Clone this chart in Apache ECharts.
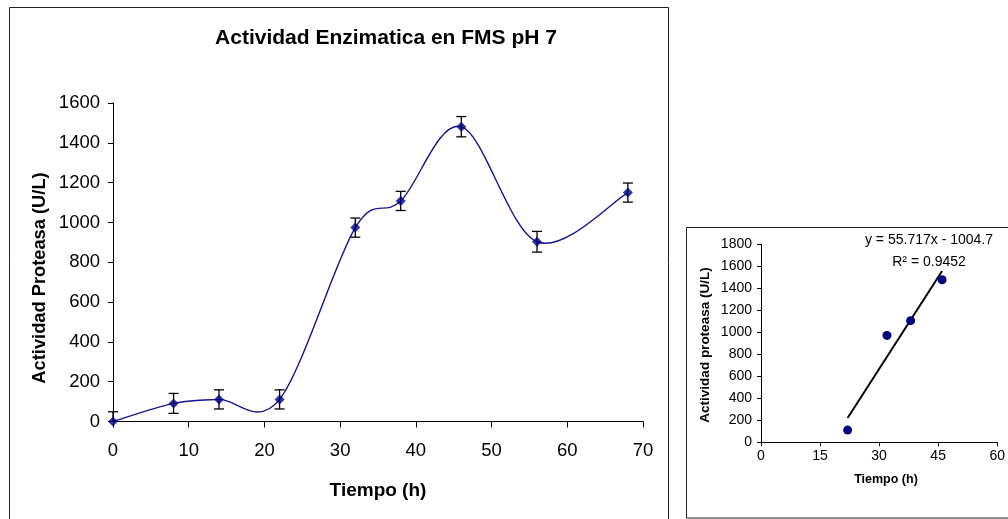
<!DOCTYPE html>
<html>
<head>
<meta charset="utf-8">
<script src="https://cdn.jsdelivr.net/npm/echarts@6/dist/echarts.min.js"></script>
<style>
html,body{margin:0;padding:0;background:#fff;}
#c{width:1008px;height:519px;}
</style>
</head>
<body>
<div id="c"></div>
<script>
// ---- Data ----
const tiempo = [0, 8, 14, 22, 32, 38, 46, 56, 68];
const actividad = [0, 91, 111, 111, 974, 1108, 1481, 903, 1150];
const errorBar = [49, 50, 48, 48, 48, 48, 51, 52, 48];

const insetTiempo = [22, 32, 38, 46];
const insetActividad = [111, 972, 1106, 1478];
const trendX = [22, 46];
const trendY = [221, 1558];

const mainTitle = 'Actividad Enzimatica en FMS pH 7';
const mainXName = 'Tiempo (h)';
const mainYName = 'Actividad Proteasa (U/L)';
const insetXName = 'Tiempo (h)';
const insetYName = 'Actividad proteasa (U/L)';
const eqText = 'y = 55.717x - 1004.7';
const r2Text = 'R² = 0.9452';

// ---- Build ----
const SANS = '"Liberation Sans", Arial, sans-serif';
const NAVY = '#000080';
const plain = v => String(v);

const lineData = tiempo.map((t, i) => [t, actividad[i]]);
const errData = tiempo.map((t, i) => [t, actividad[i] + errorBar[i], actividad[i] - errorBar[i]]);
const insetData = insetTiempo.map((t, i) => [t, insetActividad[i]]);
const trendData = trendX.map((t, i) => [t, trendY[i]]);

const chart = echarts.init(document.getElementById('c'), null, {renderer: 'canvas'});

function axisCommon(extra) {
  return Object.assign({
    type: 'value',
    axisLine: {show: true, onZero: false, lineStyle: {color: '#000', width: 1}},
    splitLine: {show: false}
  }, extra);
}

const option = {
  backgroundColor: '#fff',
  animation: false,
  grid: [
    {left: 113, top: 103, width: 530, height: 318.5},
    {left: 761, top: 244.3, width: 250, height: 198}
  ],
  xAxis: [
    axisCommon({gridIndex: 0, min: 0, max: 70, interval: 10,
      axisTick: {show: true, length: 6, lineStyle: {color: '#000'}},
      axisLabel: {color: '#000', fontSize: 18.5, fontFamily: SANS, margin: 20, formatter: plain}}),
    axisCommon({gridIndex: 1, min: 0, max: 60, interval: 15,
      axisTick: {show: true, length: 4, lineStyle: {color: '#000'}},
      axisLabel: {color: '#000', fontSize: 14, fontFamily: SANS, margin: 7, formatter: plain}})
  ],
  yAxis: [
    axisCommon({gridIndex: 0, min: 0, max: 1600, interval: 200,
      axisTick: {show: true, length: 5, lineStyle: {color: '#000'}},
      axisLabel: {color: '#000', fontSize: 18.5, fontFamily: SANS, margin: 13, formatter: plain}}),
    axisCommon({gridIndex: 1, min: 0, max: 1800, interval: 200,
      axisTick: {show: true, length: 4, lineStyle: {color: '#000'}},
      axisLabel: {color: '#000', fontSize: 14, fontFamily: SANS, margin: 9, formatter: plain}})
  ],
  series: [
    // error bars
    {
      type: 'custom', xAxisIndex: 0, yAxisIndex: 0, z: 2,
      data: errData,
      renderItem: function (params, api) {
        const x = api.value(0), hi = api.value(1);
        let lo = api.value(2);
        const clipped = lo < 0;
        if (clipped) lo = 0;
        const p1 = api.coord([x, hi]);
        const p2 = api.coord([x, lo]);
        const w = 5;
        const st = {stroke: '#000', lineWidth: 1.3};
        const ch = [
          {type: 'line', shape: {x1: p1[0], y1: p1[1], x2: p2[0], y2: p2[1]}, style: st},
          {type: 'line', shape: {x1: p1[0] - w, y1: p1[1], x2: p1[0] + w, y2: p1[1]}, style: st}
        ];
        if (!clipped) ch.push({type: 'line', shape: {x1: p2[0] - w, y1: p2[1], x2: p2[0] + w, y2: p2[1]}, style: st});
        return {type: 'group', children: ch};
      }
    },
    // smoothed line (Catmull-Rom style bezier, like a spreadsheet smoothed line)
    {
      type: 'custom', xAxisIndex: 0, yAxisIndex: 0, z: 3,
      data: lineData,
      renderItem: function (params, api) {
        const i = params.dataIndex;
        const n = lineData.length;
        if (i >= n - 1) return null;
        const P = k => api.coord(lineData[Math.max(0, Math.min(n - 1, k))]);
        const p0 = P(i - 1), p1 = P(i), p2 = P(i + 1), p3 = P(i + 2);
        const c1 = [p1[0] + (p2[0] - p0[0]) / 6, p1[1] + (p2[1] - p0[1]) / 6];
        const c2 = [p2[0] - (p3[0] - p1[0]) / 6, p2[1] - (p3[1] - p1[1]) / 6];
        return {
          type: 'bezierCurve',
          shape: {x1: p1[0], y1: p1[1], x2: p2[0], y2: p2[1], cpx1: c1[0], cpy1: c1[1], cpx2: c2[0], cpy2: c2[1]},
          style: {stroke: '#14148f', lineWidth: 1.4, fill: 'none'}
        };
      }
    },
    {
      type: 'scatter', xAxisIndex: 0, yAxisIndex: 0, z: 4,
      data: lineData, symbol: 'diamond', symbolSize: 10,
      itemStyle: {color: NAVY}
    },
    {
      type: 'scatter', xAxisIndex: 1, yAxisIndex: 1, z: 3,
      data: insetData, symbol: 'circle', symbolSize: 9,
      itemStyle: {color: NAVY, opacity: 1}
    },
    {
      type: 'line', xAxisIndex: 1, yAxisIndex: 1, z: 2,
      data: trendData, symbol: 'none',
      lineStyle: {color: '#000', width: 2}
    }
  ],
  graphic: [
    {type: 'rect', shape: {x: 9.5, y: 7.5, width: 659, height: 520}, style: {fill: 'none', stroke: '#222', lineWidth: 1}, z: 0},
    {type: 'rect', shape: {x: 686.5, y: 227.5, width: 330, height: 290.5}, style: {fill: 'none', stroke: '#222', lineWidth: 1}, z: 0},
    {type: 'text', x: 386, y: 38, style: {text: mainTitle, textAlign: 'center', textVerticalAlign: 'middle', fontSize: 21, fontWeight: 'bold', fontFamily: SANS, fill: '#000'}},
    {type: 'text', x: 378, y: 491, style: {text: mainXName, textAlign: 'center', textVerticalAlign: 'middle', fontSize: 19, fontWeight: 'bold', fontFamily: SANS, fill: '#000'}},
    {type: 'text', x: 40, y: 278, rotation: Math.PI / 2, style: {text: mainYName, textAlign: 'center', textVerticalAlign: 'middle', fontSize: 18.3, fontWeight: 'bold', fontFamily: SANS, fill: '#000'}},
    {type: 'text', x: 886, y: 480, style: {text: insetXName, textAlign: 'center', textVerticalAlign: 'middle', fontSize: 12.5, fontWeight: 'bold', fontFamily: SANS, fill: '#000'}},
    {type: 'text', x: 705, y: 345, rotation: Math.PI / 2, style: {text: insetYName, textAlign: 'center', textVerticalAlign: 'middle', fontSize: 13.5, fontWeight: 'bold', fontFamily: SANS, fill: '#000'}},
    {type: 'text', x: 929, y: 240, style: {text: eqText, textAlign: 'center', textVerticalAlign: 'middle', fontSize: 14, fontFamily: SANS, fill: '#000'}},
    {type: 'text', x: 929, y: 262, style: {text: r2Text, textAlign: 'center', textVerticalAlign: 'middle', fontSize: 14, fontFamily: SANS, fill: '#000'}}
  ]
};
chart.setOption(option);
</script>
</body>
</html>
